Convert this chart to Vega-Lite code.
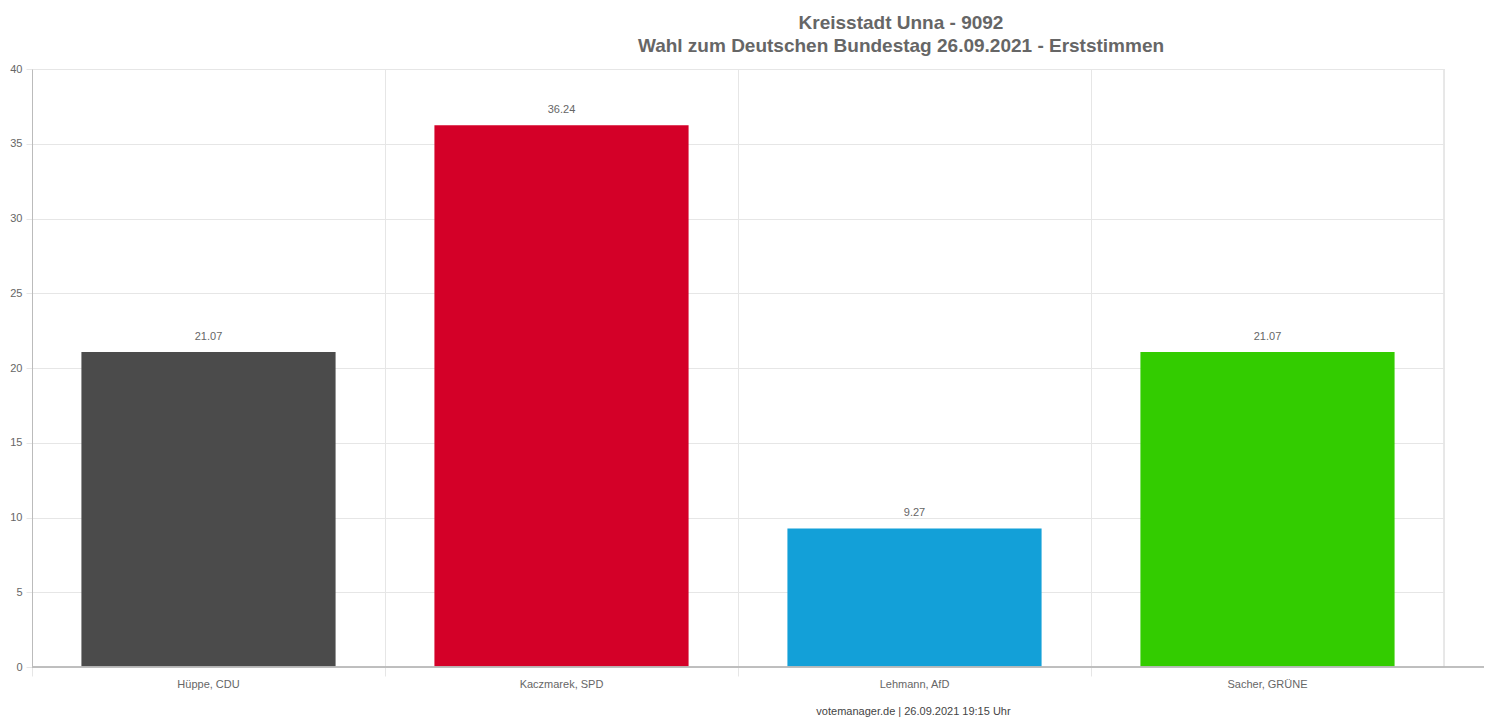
{
  "$schema": "https://vega.github.io/schema/vega-lite/v6.json",
  "autosize": "none",
  "width": 1452,
  "height": 598,
  "padding": {"left": 32, "top": 69, "right": 8, "bottom": 53},
  "background": "white",
  "title": {
    "text": ["Kreisstadt Unna - 9092", "Wahl zum Deutschen Bundestag 26.09.2021  - Erststimmen"],
    "font": "Liberation Sans",
    "fontSize": 19,
    "fontWeight": "bold",
    "color": "#666666",
    "anchor": "middle",
    "frame": "group",
    "dx": 143,
    "offset": 7,
    "lineHeight": 23
  },
  "config": {"view": {"stroke": null}, "font": "Liberation Sans"},
  "data": {
    "values": [
      {"candidate": "Hüppe, CDU", "value": 21.07},
      {"candidate": "Kaczmarek, SPD", "value": 36.24},
      {"candidate": "Lehmann, AfD", "value": 9.27},
      {"candidate": "Sacher, GRÜNE", "value": 21.07}
    ]
  },
  "layer": [
    {
      "mark": {"type": "bar", "width": {"band": 0.72}},
      "encoding": {
        "x": {
          "field": "candidate", "type": "nominal", "sort": null,
          "scale": {"range": [0, 1412], "paddingInner": 0, "paddingOuter": 0},
          "axis": {
            "title": "votemanager.de | 26.09.2021 19:15 Uhr",
            "titleX": 881, "titleY": 44, "titleBaseline": "middle", "titleAlign": "center",
            "titleFontSize": 11, "titleFontWeight": "normal", "titleColor": "#444444",
            "labelAngle": 0, "labelFontSize": 11, "labelColor": "#666666", "labelPadding": 2,
            "bandPosition": 0, "grid": true, "gridColor": "#e6e6e6",
            "tickColor": "#e6e6e6", "tickSize": 9, "domain": false
          }
        },
        "y": {
          "field": "value", "type": "quantitative",
          "scale": {"domain": [0, 40], "nice": false},
          "axis": {
            "title": null, "values": [0, 5, 10, 15, 20, 25, 30, 35, 40],
            "grid": true, "gridColor": "#e6e6e6", "domainColor": "#bbbbbb",
            "tickColor": "#e6e6e6", "tickSize": 6, "labelPadding": 4,
            "labelFontSize": 11, "labelColor": "#666666"
          }
        },
        "color": {
          "field": "candidate", "type": "nominal", "legend": null,
          "scale": {
            "domain": ["Hüppe, CDU", "Kaczmarek, SPD", "Lehmann, AfD", "Sacher, GRÜNE"],
            "range": ["#4b4b4b", "#d40028", "#13a0d8", "#33cc00"]
          }
        }
      }
    },
    {
      "mark": {"type": "text", "fontSize": 11, "color": "#666666", "baseline": "alphabetic", "dy": -12},
      "encoding": {
        "x": {"field": "candidate", "type": "nominal", "sort": null},
        "y": {"field": "value", "type": "quantitative"},
        "text": {"field": "value", "type": "quantitative", "format": ".2f"}
      }
    },
    {
      "mark": {"type": "rule", "color": "#e6e6e6"},
      "encoding": {
        "x": {"datum": "Sacher, GRÜNE", "bandPosition": 1}
      }
    },
    {
      "mark": {"type": "rule", "color": "#bbbbbb"},
      "encoding": {
        "y": {"datum": 0}
      }
    }
  ]
}
